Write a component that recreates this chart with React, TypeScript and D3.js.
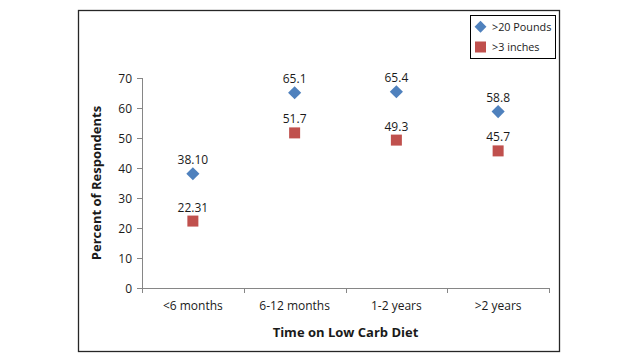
import * as d3 from 'd3';

const categories = ['<6 months', '6-12 months', '1-2 years', '>2 years'];
const poundsValues = [38.1, 65.1, 65.4, 58.8];
const poundsLabels = ['38.10', '65.1', '65.4', '58.8'];
const inchesValues = [22.31, 51.7, 49.3, 45.7];
const inchesLabels = ['22.31', '51.7', '49.3', '45.7'];
const yTicks = [0, 10, 20, 30, 40, 50, 60, 70];

const W = 638;
const H = 359;
const FONT = '"Open Sans", sans-serif';
const BLUE = '#4F81BD';
const RED = '#C0504D';
const AXIS = '#868686';

export default function App() {
    const x = d3.scaleBand().domain(categories).range([142, 549]);
    const y = d3.scaleLinear().domain([0, 70]).range([288, 78]);
    const diamond = d3.symbol(d3.symbolDiamond2, 110)();

    const xTickPos = [...categories.map((c) => x(c) as number), 549];

    return (
        <svg
            width={W}
            height={H}
            style={{ position: 'absolute', left: 0, top: 0 }}
            fontFamily={FONT}
        >
            <rect x={0} y={0} width={W} height={H} fill="#fff" />
            <rect x={78.5} y={10.5} width={481} height={341} fill="#fff" stroke="#262626" strokeWidth={1.3} />

            {/* y axis */}
            <line x1={142.5} x2={142.5} y1={y(70)} y2={y(0)} stroke={AXIS} />
            {yTicks.map((t) => (
                <g key={t}>
                    <line x1={137} x2={142.5} y1={Math.round(y(t)) + 0.5} y2={Math.round(y(t)) + 0.5} stroke={AXIS} />
                    <text x={132} y={y(t) + 4.5} textAnchor="end" fontSize={12} fill="#1a1a1a">
                        {t}
                    </text>
                </g>
            ))}

            {/* x axis */}
            <line x1={142} x2={549.5} y1={288.5} y2={288.5} stroke={AXIS} />
            {xTickPos.map((p, i) => (
                <line key={i} x1={Math.round(p) + 0.5} x2={Math.round(p) + 0.5} y1={288} y2={293} stroke={AXIS} />
            ))}
            {categories.map((c) => (
                <text
                    key={c}
                    x={(x(c) as number) + x.bandwidth() / 2}
                    y={310}
                    textAnchor="middle"
                    fontSize={12}
                    fill="#1a1a1a"
                >
                    {c}
                </text>
            ))}

            <text x={345.5} y={337} textAnchor="middle" fontSize={13} fontWeight="bold" fill="#1a1a1a">
                Time on Low Carb Diet
            </text>
            <text
                transform={`translate(101,${(78 + 288) / 2}) rotate(-90)`}
                textAnchor="middle"
                fontSize={13}
                fontWeight="bold"
                fill="#1a1a1a"
            >
                Percent of Respondents
            </text>

            {/* series */}
            {categories.map((c, i) => {
                const cx = (x(c) as number) + x.bandwidth() / 2;
                return (
                    <g key={c}>
                        <path d={diamond} transform={`translate(${cx},${y(poundsValues[i])})`} fill={BLUE} />
                        <text x={cx} y={y(poundsValues[i]) - 9.5} textAnchor="middle" fontSize={12} fill="#1a1a1a">
                            {poundsLabels[i]}
                        </text>
                        <rect
                            x={cx - 5.5}
                            y={y(inchesValues[i]) - 5.5}
                            width={11}
                            height={11}
                            fill={RED}
                        />
                        <text x={cx} y={y(inchesValues[i]) - 9.5} textAnchor="middle" fontSize={12} fill="#1a1a1a">
                            {inchesLabels[i]}
                        </text>
                    </g>
                );
            })}

            {/* legend */}
            <rect x={470.5} y={15.5} width={85} height={43} fill="#fff" stroke="#000" />
            <path d={d3.symbol(d3.symbolDiamond2, 90)()} transform="translate(480.5,26.7)" fill={BLUE} />
            <text x={492} y={30.5} fontSize={10.8} fill="#1a1a1a">
                &gt;20 Pounds
            </text>
            <rect x={475} y={41.5} width={11} height={11} fill={RED} />
            <text x={492} y={50.5} fontSize={10.8} fill="#1a1a1a">
                &gt;3 inches
            </text>
        </svg>
    );
}
